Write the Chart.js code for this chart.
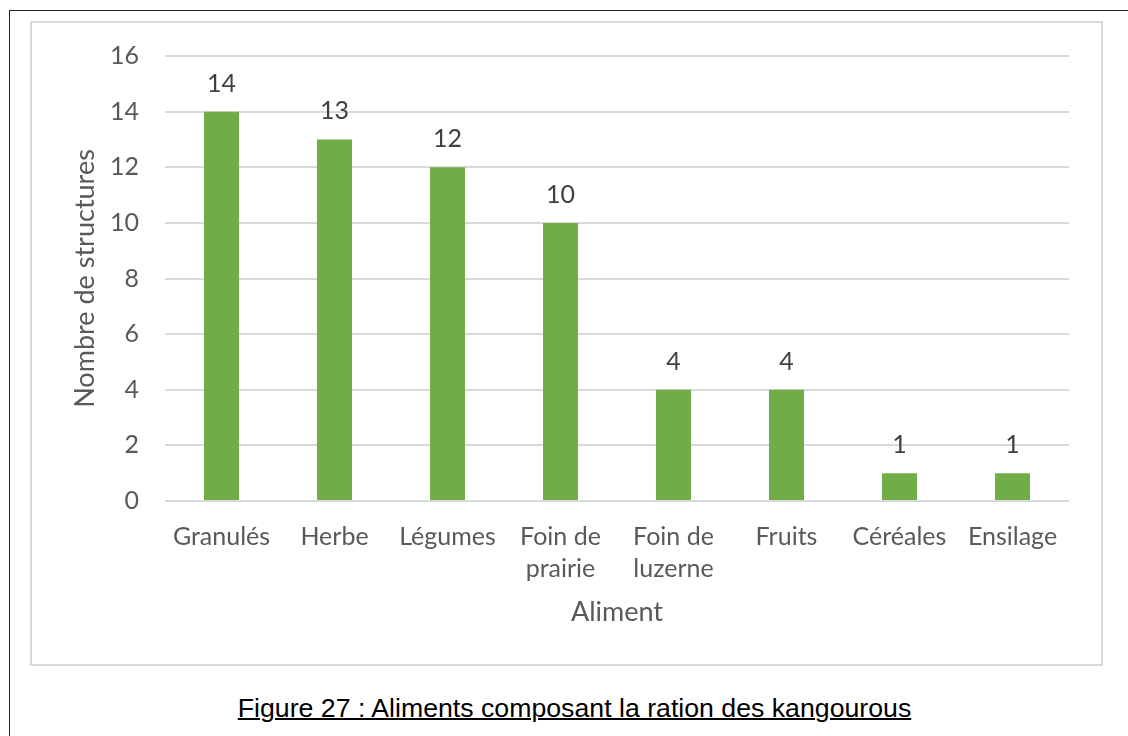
<!DOCTYPE html>
<html>
<head>
<meta charset="utf-8">
<script src="https://cdn.jsdelivr.net/npm/chart.js@4.4.1/dist/chart.umd.min.js"></script>
<style>
  html, body { margin: 0; padding: 0; background: #fff; }
  body { width: 1128px; height: 736px; position: relative; overflow: hidden; }
  #frame { position: absolute; left: 9px; top: 10px; width: 1300px; height: 900px;
           border: 1.5px solid #222; box-sizing: border-box; }
  #box { position: absolute; left: 30px; top: 21px; width: 1073px; height: 645px;
         border: 2px solid #d9d9d9; box-sizing: border-box; }
  #caption { position: absolute; left: 0; top: 695px; width: 1149px; text-align: center;
             font: 26.7px/26.7px "Liberation Sans", Arial, sans-serif; color: #000; }
  #caption span { text-decoration: underline; text-decoration-thickness: 2px; }
  canvas { position: absolute; left: 0; top: 0; }
</style>
</head>
<body>
<div id="frame"></div>
<div id="box"></div>
<div id="caption"><span>Figure 27 : Aliments composant la ration des kangourous</span></div>
<canvas id="chart" width="1128" height="736"></canvas>
<script>
// values
const categories = ["Granulés", "Herbe", "Légumes", ["Foin de", "prairie"], ["Foin de", "luzerne"], "Fruits", "Céréales", "Ensilage"];
const structures = [14, 13, 12, 10, 4, 4, 1, 1];
const yTicks = [0, 2, 4, 6, 8, 10, 12, 14, 16];

const GREEN = "#70AD47";
const GRID = "#d9d9d9";
const TEXT = "#595959";
const FONT = "Lato, 'Open Sans', sans-serif";

// Chart.js has no built-in value labels — draw them above each bar
const barValues = {
  id: "barValues",
  afterDatasetsDraw(chart) {
    const ctx = chart.ctx;
    const meta = chart.getDatasetMeta(0);
    ctx.save();
    ctx.fillStyle = "#404040";
    ctx.font = "25px " + FONT;
    ctx.textAlign = "center";
    ctx.textBaseline = "alphabetic";
    meta.data.forEach((bar, i) => {
      ctx.fillText(String(structures[i]), bar.x, bar.y - 20);
    });
    ctx.restore();
  },
};

new Chart(document.getElementById("chart"), {
  type: "bar",
  data: {
    labels: categories,
    datasets: [{
      data: structures,
      backgroundColor: GREEN,
      categoryPercentage: 1,
      barPercentage: 0.31,
    }],
  },
  options: {
    responsive: false,
    animation: false,
    layout: { padding: { left: 60, top: 56, right: 59, bottom: 105 } },
    plugins: { legend: { display: false }, tooltip: { enabled: false } },
    scales: {
      x: {
        afterFit(scale) { scale.height = 130; },
        grid: { display: false },
        border: { display: false },
        ticks: { color: TEXT, font: { family: FONT, size: 25, lineHeight: "32px" }, padding: 12, maxRotation: 0 },
        title: { display: true, text: "Aliment", color: TEXT, font: { family: FONT, size: 27 }, padding: { top: 0, bottom: 3 } },
      },
      y: {
        min: 0,
        max: 16,
        afterFit(scale) { scale.width = 105; },
        afterBuildTicks(scale) { scale.ticks = yTicks.map((v) => ({ value: v })); },
        grid: { color: GRID, lineWidth: 2, drawTicks: false },
        border: { display: false },
        ticks: { color: TEXT, font: { family: FONT, size: 25 }, padding: 26 },
        title: { display: true, text: "Nombre de structures", color: TEXT, font: { family: FONT, size: 27 }, padding: { top: 9, bottom: 0 } },
      },
    },
  },
  plugins: [barValues],
});
</script>
</body>
</html>
